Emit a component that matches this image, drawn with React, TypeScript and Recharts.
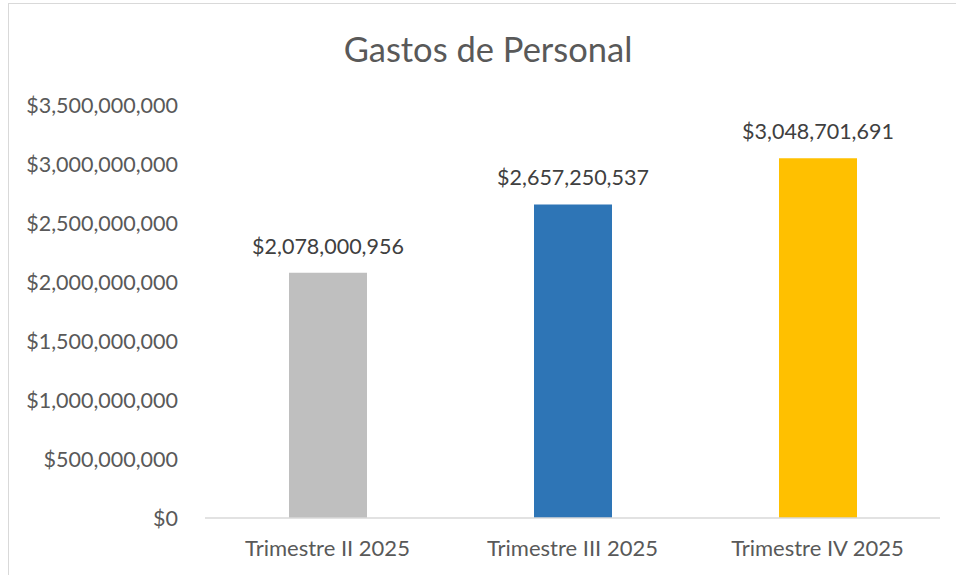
import React from "react";
import { BarChart, Bar, XAxis, YAxis, Cell, LabelList } from "recharts";

const categories = ["Trimestre II 2025", "Trimestre III 2025", "Trimestre IV 2025"];
const values = [2078000956, 2657250537, 3048701691];
const colors = ["#BFBFBF", "#2E75B6", "#FFC000"];
const yTicks = [0, 500000000, 1000000000, 1500000000, 2000000000, 2500000000, 3000000000, 3500000000];
const title = "Gastos de Personal";

const data = categories.map((c, i) => ({ name: c, value: values[i] }));
const fmt = (v: number) => "$" + v.toLocaleString("en-US");
const FONT = "Lato, sans-serif";

export default function App() {
  return (
    <div style={{ position: "absolute", left: 0, top: 0, width: 956, height: 575, background: "#fff", fontFamily: FONT, overflow: "hidden" }}>
      <div style={{ position: "absolute", left: 8, top: 3, width: 1000, height: 700, border: "1.5px solid #D9D9D9", boxSizing: "border-box" }} />
      <div style={{ position: "absolute", left: 10, top: 27, width: 956, textAlign: "center", fontSize: 34.5, color: "#595959", lineHeight: "44px" }}>{title}</div>
      <div style={{ position: "absolute", left: 0, top: 0 }}>
        <BarChart width={956} height={575} data={data} margin={{ top: 105, right: 16, bottom: 27, left: 0 }}>
          <XAxis dataKey="name" tickLine={false} tickSize={0} tickMargin={22} axisLine={{ stroke: "#D9D9D9", strokeWidth: 1.5 }} tick={{ fill: "#595959", fontSize: 22, fontFamily: FONT }} />
          <YAxis domain={[0, 3500000000]} ticks={yTicks} width={205} axisLine={false} tickLine={false} tickSize={0} tickMargin={27} tickFormatter={fmt} tick={{ fill: "#595959", fontSize: 21.5, fontFamily: FONT }} />
          <Bar dataKey="value" barSize={78} isAnimationActive={false}>
            {data.map((d, i) => (
              <Cell key={d.name} fill={colors[i]} />
            ))}
            <LabelList dataKey="value" position="top" offset={19} formatter={(v: any) => fmt(Number(v))} fill="#404040" fontSize={21.5} fontFamily={FONT} />
          </Bar>
        </BarChart>
      </div>
    </div>
  );
}
